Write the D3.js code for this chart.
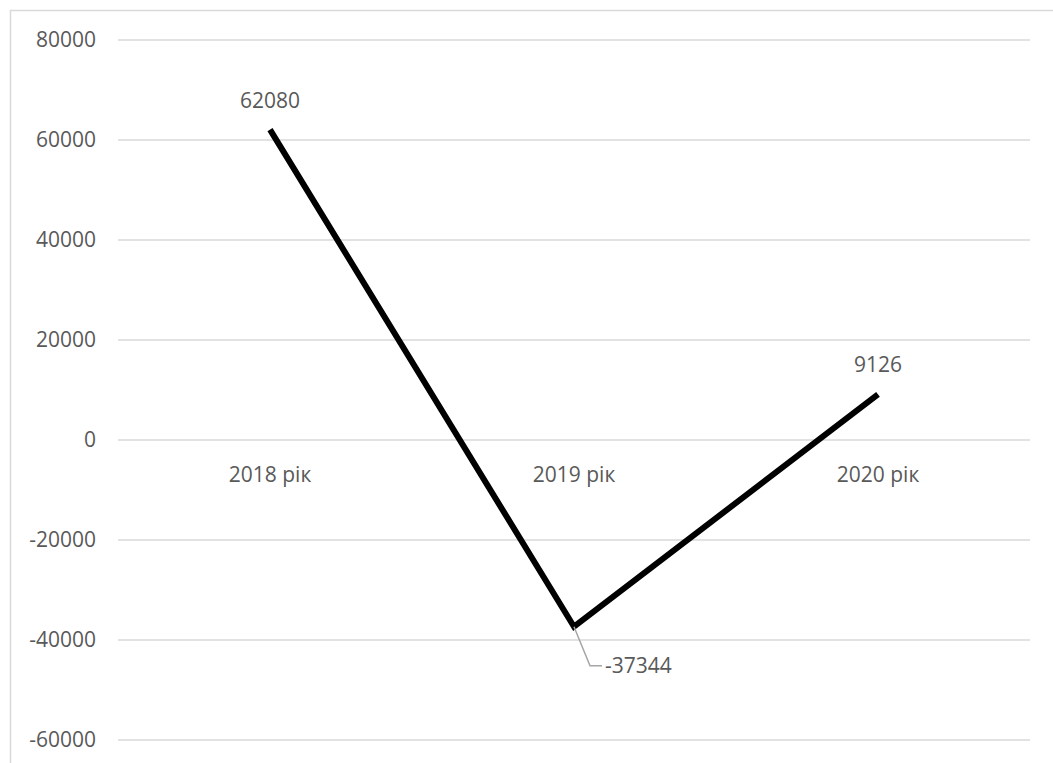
<!DOCTYPE html>
<html>
<head>
<meta charset="utf-8">
<script src="https://cdn.jsdelivr.net/npm/d3@7"></script>
<style>
  body { margin: 0; background: #fff; }
  text { font-family: "Open Sans", sans-serif; fill: #595959; }
</style>
</head>
<body>
<div class="chart"></div>
<script>
// chart data
const years = ["2018 рік", "2019 рік", "2020 рік"];
const values = [62080, -37344, 9126];
const yTicks = [80000, 60000, 40000, 20000, 0, -20000, -40000, -60000];

const w = 1053, h = 763;
const padL = 118, padR = 1030, padT = 40, padB = 740;

const svg = d3.select(".chart").append("svg")
  .attr("width", w)
  .attr("height", h)
  .style("display", "block");

// chart frame (cut off on right and bottom like the original)
svg.append("rect")
  .attr("x", 10.5).attr("y", 10.5)
  .attr("width", 1060).attr("height", 780)
  .attr("fill", "none")
  .attr("stroke", "#d9d9d9")
  .attr("stroke-width", 1.5);

const x = d3.scaleBand().domain(years).range([padL, padR]);
const y = d3.scaleLinear().domain([-60000, 80000]).range([padB, padT]);

// gridlines
svg.append("g")
  .selectAll("line")
  .data(yTicks)
  .enter()
  .append("line")
  .attr("x1", padL).attr("x2", padR)
  .attr("y1", d => y(d)).attr("y2", d => y(d))
  .attr("stroke", "#d9d9d9")
  .attr("stroke-width", 1.5);

// y axis labels, plain numbers with a simple hyphen for negatives
const yAxis = d3.axisLeft(y).tickValues(yTicks).tickSize(0).tickPadding(0)
  .tickFormat(d => String(d));
svg.append("g")
  .attr("transform", "translate(96,0)")
  .call(yAxis)
  .call(g => g.select(".domain").remove())
  .selectAll("text")
  .attr("font-size", 21)
  .attr("font-family", "Open Sans, sans-serif")
  .attr("fill", "#595959");

// category labels sit below the zero line
svg.append("g")
  .selectAll("text")
  .data(years)
  .enter()
  .append("text")
  .attr("x", d => x(d) + x.bandwidth() / 2)
  .attr("y", y(0) + 42)
  .attr("text-anchor", "middle")
  .attr("font-size", 21)
  .text(d => d);

// the line
const line = d3.line()
  .x((d, i) => x(years[i]) + x.bandwidth() / 2)
  .y(d => y(d));

svg.append("path")
  .datum(values)
  .attr("d", line)
  .attr("fill", "none")
  .attr("stroke", "#000")
  .attr("stroke-width", 6)
  .attr("stroke-linejoin", "miter");

// data labels
const px = i => x(years[i]) + x.bandwidth() / 2;
svg.append("text")
  .attr("x", px(0)).attr("y", y(values[0]) - 22)
  .attr("text-anchor", "middle").attr("font-size", 21)
  .text(values[0]);
svg.append("text")
  .attr("x", px(2)).attr("y", y(values[2]) - 22)
  .attr("text-anchor", "middle").attr("font-size", 21)
  .text(values[2]);

// label for the minimum with its leader line
const mx = px(1), my = y(values[1]);
svg.append("polyline")
  .attr("points", [[mx, my], [mx + 16, my + 39], [mx + 28, my + 39]].map(p => p.join(",")).join(" "))
  .attr("fill", "none")
  .attr("stroke", "#a6a6a6")
  .attr("stroke-width", 1.5);
svg.append("text")
  .attr("x", mx + 31).attr("y", my + 46)
  .attr("font-size", 21)
  .text(values[1]);
</script>
</body>
</html>
